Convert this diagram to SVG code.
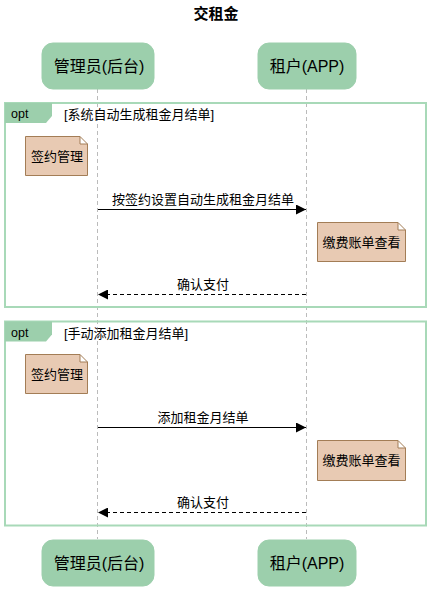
<svg xmlns="http://www.w3.org/2000/svg" width="430" height="589" viewBox="0 0 430 589">
<defs>
<style>
text{font-family:"Liberation Sans","Noto Sans CJK SC",sans-serif;fill:#000}
.part rect{fill:#9ccfac;stroke:#9ccfac}
.pt{font-size:16px;text-anchor:middle}
.frame{fill:none;stroke:#a8d9b8;stroke-width:2}
.tag{fill:#9ccfac;stroke:none}
.note path{fill:#e8cab3;stroke:#a37d56;stroke-width:1}
.nt{font-size:13px;text-anchor:middle}
.mt{font-size:13px;text-anchor:middle}
.life{stroke:#bbbbbb;stroke-dasharray:4,3;stroke-width:1}
.msg{stroke:#000;stroke-width:1;fill:none}
.dash{stroke-dasharray:4,3}
</style>
<marker id="ah" viewBox="0 0 10 10" refX="10" refY="5" markerWidth="10" markerHeight="10" markerUnits="userSpaceOnUse" orient="auto">
<path d="M0,0 L10,5 L0,10 z" fill="#000"/>
</marker>
</defs>
<rect width="430" height="589" fill="#fff"/>
<text x="216" y="19" style="font-size:15px;font-weight:bold;text-anchor:middle">交租金</text>

<g id="lifelines">
<line class="life" x1="97.5" y1="89" x2="97.5" y2="539"/>
<line class="life" x1="306.5" y1="89" x2="306.5" y2="539"/>
</g>

<g id="frame1">
<rect class="frame" x="5" y="103" width="421" height="204"/>
<path class="tag" d="M5,103 H52 V116 L46,123 H5 Z"/>
<text x="11" y="118" style="font-size:12.5px">opt</text>
<text x="64" y="119" style="font-size:13px">[系统自动生成租金月结单]</text>
</g>
<g id="frame2">
<rect class="frame" x="5" y="321.5" width="421" height="204"/>
<path class="tag" d="M5,321.5 H52 V334.5 L46,341.5 H5 Z"/>
<text x="11" y="336.5" style="font-size:12.5px">opt</text>
<text x="64" y="337.5" style="font-size:13px">[手动添加租金月结单]</text>
</g>

<g id="p_admin_top" class="part"><rect x="42" y="43" width="112" height="46" rx="11"/><text class="pt" x="99" y="72">管理员(后台)</text></g>
<g id="p_tenant_top" class="part"><rect x="258" y="43" width="98" height="46" rx="11"/><text class="pt" x="307" y="72">租户(APP)</text></g>
<g id="p_admin_bot" class="part"><rect x="42" y="540" width="112" height="46" rx="11"/><text class="pt" x="99" y="569">管理员(后台)</text></g>
<g id="p_tenant_bot" class="part"><rect x="258" y="540" width="98" height="46" rx="11"/><text class="pt" x="307" y="569">租户(APP)</text></g>

<g id="note1" class="note"><path d="M25.5,136.5 H80 L87.5,144 V175.5 H25.5 Z M80,136.5 V144 H87.5"/><text class="nt" x="57" y="161">签约管理</text></g>
<g id="note2" class="note"><path d="M317.5,222.5 H398 L405.5,230 V261.5 H317.5 Z M398,222.5 V230 H405.5"/><text class="nt" x="361.5" y="247">缴费账单查看</text></g>
<g id="note3" class="note"><path d="M25.5,354.5 H80 L87.5,362 V393.5 H25.5 Z M80,354.5 V362 H87.5"/><text class="nt" x="57" y="379">签约管理</text></g>
<g id="note4" class="note"><path d="M317.5,440.5 H398 L405.5,448 V480.5 H317.5 Z M398,440.5 V448 H405.5"/><text class="nt" x="361.5" y="465">缴费账单查看</text></g>

<g id="connectors">
<line class="msg" x1="98" y1="209.5" x2="306" y2="209.5" marker-end="url(#ah)"/>
<text class="mt" x="203" y="204">按签约设置自动生成租金月结单</text>
<line class="msg dash" x1="306" y1="294.5" x2="98" y2="294.5" marker-end="url(#ah)"/>
<text class="mt" x="203" y="289">确认支付</text>
<line class="msg" x1="98" y1="427.5" x2="306" y2="427.5" marker-end="url(#ah)"/>
<text class="mt" x="203" y="422">添加租金月结单</text>
<line class="msg dash" x1="306" y1="512.5" x2="98" y2="512.5" marker-end="url(#ah)"/>
<text class="mt" x="203" y="507">确认支付</text>
</g>
</svg>
